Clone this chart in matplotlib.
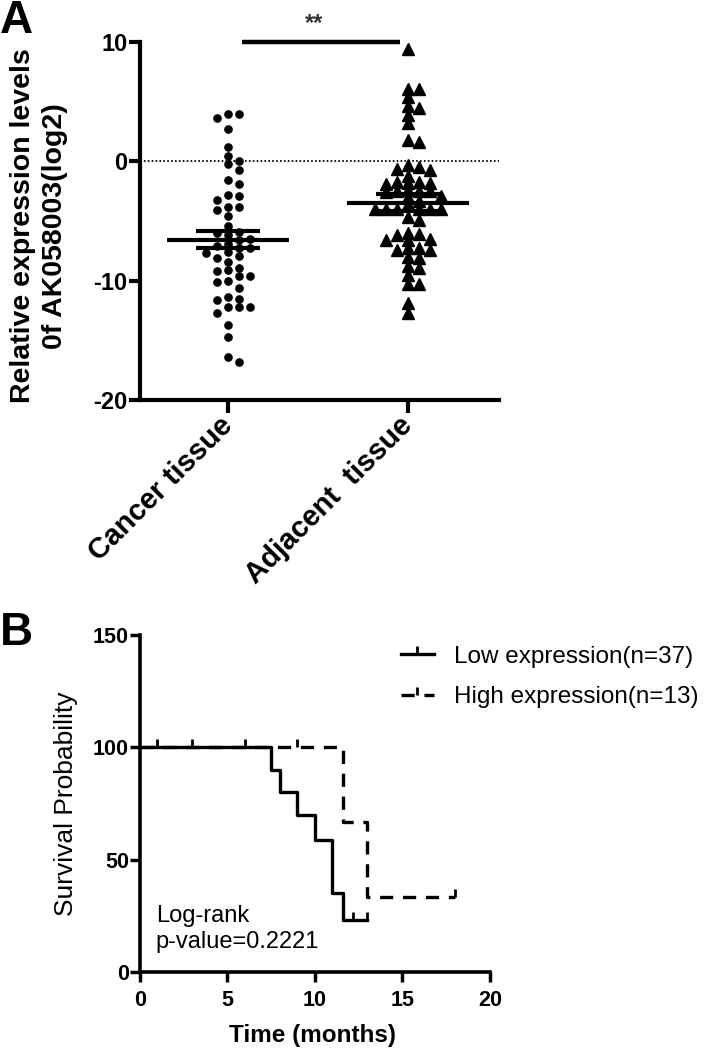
import numpy as np
import matplotlib
matplotlib.use("Agg")
import matplotlib.pyplot as plt
from matplotlib.lines import Line2D

plt.rcParams["font.family"] = ["Liberation Sans", "DejaVu Sans"]
plt.rcParams["lines.scale_dashes"] = False
plt.rcParams["axes.unicode_minus"] = False

# ---- panel A data (log2 relative expression) ----
groups = ["Cancer tissue", "Adjacent  tissue"]
cancer_vals = [4.0, 4.0, 3.6, 2.7, 1.2, 0.45, 0.0, -0.25, -0.76, -1.6, -1.9,
               -2.8, -2.9, -3.25, -3.8, -3.8, -4.1, -4.6, -5.4, -5.9, -6.0,
               -6.2, -6.5, -6.6, -6.9, -7.1, -7.3, -7.3, -7.6, -7.65, -7.95,
               -8.1, -8.4, -8.9, -9.1, -9.2, -9.6, -9.6, -10.0, -10.1, -10.6,
               -11.4, -11.5, -11.6, -12.2, -12.2, -12.2, -12.7, -13.7, -14.7,
               -16.4, -16.8]
adjacent_vals = [9.4, 6.1, 6.1, 5.4, 4.6, 4.5, 3.9, 3.2, 1.8, 1.6,
                 -0.3, -0.5, -0.6, -0.7, -1.2,
                 -1.7, -1.7, -1.8, -1.8, -1.9,
                 -2.4, -2.5, -2.5, -2.5, -2.6,
                 -2.9, -3.0, -3.3, -3.6,
                 -4.0, -4.0, -4.0, -4.0, -4.0, -4.0,
                 -4.7, -4.9,
                 -6.0, -6.1, -6.2, -6.5, -6.6, -6.6,
                 -7.3, -7.3, -7.4, -7.4,
                 -8.0, -8.1, -8.8, -8.9, -9.5, -10.3, -10.3, -11.9, -12.7]
group_means = [-6.55, -3.45]
group_sems = [0.75, 0.7]
sig_label = "**"

# ---- panel B data (Kaplan-Meier) ----
low_times = [0, 7.5, 8, 9, 10, 11, 11.6, 13]
low_surv = [100, 90, 80, 70, 58.6, 35, 23.3, 23.3]
low_censor = [1, 3, 6, 12.2, 13]
high_times = [0, 11.6, 13, 18]
high_surv = [100, 66.7, 33.3, 33.3]
high_censor = [9, 18]
low_label = "Low expression(n=37)"
high_label = "High expression(n=13)"

# censor mark: short tick pointing up from the curve
tick_up = [(0, 0), (0, 1)]


def swarm_offsets(vals, min_gap, step):
    # column-scatter layout: each point goes to the nearest free slot
    vals = np.asarray(vals, dtype=float)
    order = np.argsort(vals)[::-1]
    slots = [0]
    for n in range(1, 12):
        slots += [n, -n]
    placed = []
    offs = np.zeros(len(vals))
    for i in order:
        v = vals[i]
        for s in slots:
            if all(not (ps == s and abs(pv - v) < min_gap) for ps, pv in placed):
                break
        placed.append((s, v))
        offs[i] = s * step
    return offs


def step_value(times, surv, t):
    idx = np.searchsorted(times, t, side="right") - 1
    return np.asarray(surv)[idx]


fig = plt.figure(figsize=(7.08, 10.5), dpi=100)

# ================= panel A =================
axA = fig.add_axes([0.1977, 0.619, 0.5071, 0.341])
step = 0.061
cx = 0 + swarm_offsets(cancer_vals, 0.62, step)
axA.plot(cx, cancer_vals, "o", color="black", ms=5.2, mec="black", clip_on=False)
ax_ = 1 + swarm_offsets(adjacent_vals, 0.55, step)
axA.plot(ax_, adjacent_vals, "^", color="black", ms=8.5, mec="black", clip_on=False)

for i, (m, s) in enumerate(zip(group_means, group_sems)):
    axA.hlines(m, i - 0.34, i + 0.34, color="black", lw=3)
    axA.hlines([m - s, m + s], i - 0.18, i + 0.18, color="black", lw=3)
    axA.vlines(i, m - s, m + s, color="black", lw=3)

axA.axhline(0, color="black", lw=1.3, ls=(0, (1.2, 1.6)))
axA.plot([0.08, 0.955], [10, 10], color="black", lw=3.2, clip_on=False,
         solid_capstyle="butt")
axA.text(0.48, 11.0, sig_label, ha="center", va="baseline", fontsize=17,
         fontweight="bold", color="#333333")

axA.set_xlim(-0.489, 1.506)
axA.set_ylim(-20, 10)
axA.set_yticks([-20, -10, 0, 10])
axA.set_xticks([0, 1])
axA.set_xticklabels(groups, rotation=45, ha="right", va="center",
                    rotation_mode="anchor", fontsize=21, fontweight="bold")
for lab in axA.get_yticklabels():
    lab.set_fontweight("bold")
axA.tick_params(axis="y", labelsize=17, length=8, width=3, pad=1)
axA.tick_params(axis="x", length=9, width=3, pad=6)
for side in ["top", "right"]:
    axA.spines[side].set_visible(False)
for side in ["left", "bottom"]:
    axA.spines[side].set_linewidth(3)

fig.text(39 / 708, 1 - 226 / 1050,
         "Relative expression levels\n0f AK058003(log2)",
         rotation=90, ha="center", va="center", multialignment="center",
         fontsize=20.5, fontweight="bold", linespacing=1.3)

fig.text(0.0, 1 - 33 / 1050, "A", fontsize=33, fontweight="bold",
         ha="left", va="baseline")

# ================= panel B =================
axB = fig.add_axes([0.1977, 0.0743, 0.4944, 0.3210])
axB.step(high_times, high_surv, where="post", color="black", lw=2.4,
         dashes=(9.5, 7))
axB.step(low_times, low_surv, where="post", color="black", lw=2.4)
axB.plot(low_censor, step_value(low_times, low_surv, low_censor),
         ls="none", marker=tick_up, color="black", ms=11, mew=2)
axB.plot(high_censor, step_value(high_times, high_surv, high_censor),
         ls="none", marker=tick_up, color="black", ms=11, mew=2)

axB.text(0.9, 19, "Log-rank\np-value=0.2221", fontsize=17, ha="left",
         va="center", linespacing=1.25)

axB.set_xlim(0, 20)
axB.set_ylim(0, 150)
axB.set_xticks([0, 5, 10, 15, 20])
axB.set_yticks([0, 50, 100, 150])
axB.tick_params(axis="both", labelsize=15.5, length=7, width=2.5)
axB.tick_params(axis="y", pad=1)
axB.tick_params(axis="x", pad=6)
for lab in axB.get_xticklabels() + axB.get_yticklabels():
    lab.set_fontweight("bold")
for side in ["top", "right"]:
    axB.spines[side].set_visible(False)
for side in ["left", "bottom"]:
    axB.spines[side].set_linewidth(2.6)

axB.set_ylabel("Survival Probability", fontsize=19)
axB.yaxis.set_label_coords(-0.211, 0.5)
axB.yaxis.label.set_va("center")
axB.set_xlabel("Time (months)", fontsize=17.5, fontweight="bold")
axB.xaxis.set_label_coords(0.494, -0.187)
axB.xaxis.label.set_va("center")

handles = [
    Line2D([0], [0], color="black", lw=2.4, marker=tick_up, ms=11, mew=2),
    Line2D([0], [0], color="black", lw=2.4, dashes=(9.5, 7), marker=tick_up,
           ms=11, mew=2),
]
fig.legend(handles, [low_label, high_label], loc="center left",
           bbox_to_anchor=(401 / 708, 1 - 677 / 1050), frameon=False,
           fontsize=17.5, handlelength=1.35, handletextpad=0.85,
           labelspacing=0.75, borderpad=0, borderaxespad=0)

fig.text(0.0, 1 - 645 / 1050, "B", fontsize=33, fontweight="bold",
         ha="left", va="baseline")

fig.savefig("out.png", dpi=100)
